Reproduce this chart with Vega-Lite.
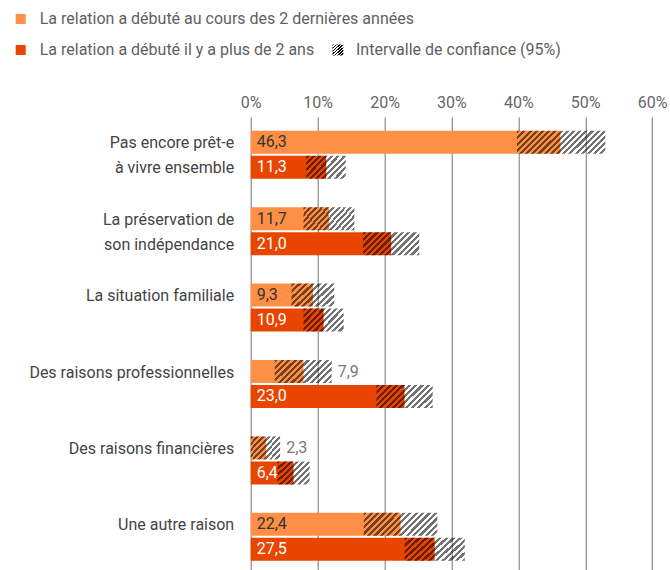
{
  "$schema": "https://vega.github.io/schema/vega-lite/v6.json",
  "width": 401.4,
  "height": 453,
  "autosize": {"type": "none"},
  "padding": {"left": 250.7, "top": 117, "right": 17.9, "bottom": 0},
  "background": "white",
  "config": {"font": "Roboto", "view": {"stroke": null}},
  "data": {"values": [
    {"raison": "Pas encore prêt-e à vivre ensemble", "groupe": "La relation a débuté au cours des 2 dernières années", "v": 46.3, "lo": 39.8, "hi": 53.0},
    {"raison": "Pas encore prêt-e à vivre ensemble", "groupe": "La relation a débuté il y a plus de 2 ans", "v": 11.3, "lo": 8.3, "hi": 14.2},
    {"raison": "La préservation de son indépendance", "groupe": "La relation a débuté au cours des 2 dernières années", "v": 11.7, "lo": 7.9, "hi": 15.5},
    {"raison": "La préservation de son indépendance", "groupe": "La relation a débuté il y a plus de 2 ans", "v": 21.0, "lo": 16.8, "hi": 25.2},
    {"raison": "La situation familiale", "groupe": "La relation a débuté au cours des 2 dernières années", "v": 9.3, "lo": 6.1, "hi": 12.5},
    {"raison": "La situation familiale", "groupe": "La relation a débuté il y a plus de 2 ans", "v": 10.9, "lo": 7.9, "hi": 13.9},
    {"raison": "Des raisons professionnelles", "groupe": "La relation a débuté au cours des 2 dernières années", "v": 7.9, "lo": 3.6, "hi": 12.1},
    {"raison": "Des raisons professionnelles", "groupe": "La relation a débuté il y a plus de 2 ans", "v": 23.0, "lo": 18.8, "hi": 27.2},
    {"raison": "Des raisons financières", "groupe": "La relation a débuté au cours des 2 dernières années", "v": 2.3, "lo": 0, "hi": 4.4},
    {"raison": "Des raisons financières", "groupe": "La relation a débuté il y a plus de 2 ans", "v": 6.4, "lo": 4.0, "hi": 8.8},
    {"raison": "Une autre raison", "groupe": "La relation a débuté au cours des 2 dernières années", "v": 22.4, "lo": 16.9, "hi": 27.9},
    {"raison": "Une autre raison", "groupe": "La relation a débuté il y a plus de 2 ans", "v": 27.5, "lo": 23.0, "hi": 32.0}
  ]},
  "encoding": {
    "y": {"field": "raison", "type": "nominal", "sort": null, "title": null,
      "scale": {"paddingInner": 0.372, "paddingOuter": 0.15, "align": 0.6},
      "axis": {"ticks": false, "domain": false, "grid": false, "labelPadding": 17, "labelFontSize": 16, "labelColor": "#444", "labelLimit": 300, "labelBaseline": "top", "labelOffset": -19.4, "labelLineHeight": 25, "labelAlign": "right",
        "labelExpr": "datum.label == 'Pas encore prêt-e à vivre ensemble' ? ['Pas encore prêt-e', 'à vivre ensemble'] : datum.label == 'La préservation de son indépendance' ? ['La préservation de', 'son indépendance'] : datum.label"}},
    "yOffset": {"field": "groupe", "type": "nominal", "sort": null, "scale": {"paddingInner": 0.08, "paddingOuter": 0}}
  },
  "layer": [
    {
      "mark": {"type": "bar"},
      "encoding": {
        "x": {"field": "v", "type": "quantitative", "title": null,
          "scale": {"domain": [0, 60], "nice": false, "zero": true},
          "axis": {"orient": "top", "values": [0, 10, 20, 30, 40, 50, 60], "labelExpr": "datum.value + '%'", "grid": true, "gridColor": "#757575", "gridWidth": 1, "ticks": false, "domain": false, "labelPadding": 7, "labelFontSize": 16, "labelColor": "#666", "labelFlush": false, "title": null}},
        "color": {"field": "groupe", "type": "nominal", "sort": null,
          "scale": {"domain": ["La relation a débuté au cours des 2 dernières années", "La relation a débuté il y a plus de 2 ans"], "range": ["#FF8F45", "#E84500"]},
          "legend": {"orient": "none", "legendX": -238, "legendY": -106, "title": null, "direction": "vertical", "symbolType": "square", "symbolSize": 100, "symbolStrokeWidth": 0, "labelFontSize": 16, "labelColor": "#5f5f5f", "labelLimit": 600, "labelOffset": 11, "rowPadding": 15, "padding": 0}}
      }
    },
    {
      "transform": [{"filter": "datum.hi - datum.lo < 5.2"}],
      "mark": {"type": "bar", "fillOpacity": 0.55, "fill": {"gradient": "linear", "x1": 0, "y1": 0, "x2": 1.1235, "y2": 0.8336, "stops": [
        {"offset":0,"color":"#000"},{"offset":0.0556,"color":"#000"},{"offset":0.0556,"color":"#0000"},{"offset":0.1111,"color":"#0000"},{"offset":0.1111,"color":"#000"},{"offset":0.1667,"color":"#000"},{"offset":0.1667,"color":"#0000"},{"offset":0.2222,"color":"#0000"},{"offset":0.2222,"color":"#000"},{"offset":0.2778,"color":"#000"},{"offset":0.2778,"color":"#0000"},{"offset":0.3333,"color":"#0000"},{"offset":0.3333,"color":"#000"},{"offset":0.3889,"color":"#000"},{"offset":0.3889,"color":"#0000"},{"offset":0.4444,"color":"#0000"},{"offset":0.4444,"color":"#000"},{"offset":0.5,"color":"#000"},{"offset":0.5,"color":"#0000"},{"offset":0.5556,"color":"#0000"},{"offset":0.5556,"color":"#000"},{"offset":0.6111,"color":"#000"},{"offset":0.6111,"color":"#0000"},{"offset":0.6667,"color":"#0000"},{"offset":0.6667,"color":"#000"},{"offset":0.7222,"color":"#000"},{"offset":0.7222,"color":"#0000"},{"offset":0.7778,"color":"#0000"},{"offset":0.7778,"color":"#000"},{"offset":0.8333,"color":"#000"},{"offset":0.8333,"color":"#0000"},{"offset":0.8889,"color":"#0000"},{"offset":0.8889,"color":"#000"},{"offset":0.9444,"color":"#000"},{"offset":0.9444,"color":"#0000"},{"offset":1,"color":"#0000"}]}},
      "encoding": {"x": {"field": "lo", "type": "quantitative"}, "x2": {"field": "hi"}}
    },
    {
      "transform": [{"filter": "datum.hi - datum.lo >= 5.2 && datum.hi - datum.lo < 7"}],
      "mark": {"type": "bar", "fillOpacity": 0.55, "fill": {"gradient": "linear", "x1": 0, "y1": 0, "x2": 1.1873, "y2": 0.6661, "stops": [
        {"offset":0,"color":"#000"},{"offset":0.05,"color":"#000"},{"offset":0.05,"color":"#0000"},{"offset":0.1,"color":"#0000"},{"offset":0.1,"color":"#000"},{"offset":0.15,"color":"#000"},{"offset":0.15,"color":"#0000"},{"offset":0.2,"color":"#0000"},{"offset":0.2,"color":"#000"},{"offset":0.25,"color":"#000"},{"offset":0.25,"color":"#0000"},{"offset":0.3,"color":"#0000"},{"offset":0.3,"color":"#000"},{"offset":0.35,"color":"#000"},{"offset":0.35,"color":"#0000"},{"offset":0.4,"color":"#0000"},{"offset":0.4,"color":"#000"},{"offset":0.45,"color":"#000"},{"offset":0.45,"color":"#0000"},{"offset":0.5,"color":"#0000"},{"offset":0.5,"color":"#000"},{"offset":0.55,"color":"#000"},{"offset":0.55,"color":"#0000"},{"offset":0.6,"color":"#0000"},{"offset":0.6,"color":"#000"},{"offset":0.65,"color":"#000"},{"offset":0.65,"color":"#0000"},{"offset":0.7,"color":"#0000"},{"offset":0.7,"color":"#000"},{"offset":0.75,"color":"#000"},{"offset":0.75,"color":"#0000"},{"offset":0.8,"color":"#0000"},{"offset":0.8,"color":"#000"},{"offset":0.85,"color":"#000"},{"offset":0.85,"color":"#0000"},{"offset":0.9,"color":"#0000"},{"offset":0.9,"color":"#000"},{"offset":0.95,"color":"#000"},{"offset":0.95,"color":"#0000"},{"offset":1,"color":"#0000"}]}},
      "encoding": {"x": {"field": "lo", "type": "quantitative"}, "x2": {"field": "hi"}}
    },
    {
      "transform": [{"filter": "datum.hi - datum.lo >= 7 && datum.hi - datum.lo < 10"}],
      "mark": {"type": "bar", "fillOpacity": 0.55, "fill": {"gradient": "linear", "x1": 0, "y1": 0, "x2": 1.2071, "y2": 0.4958, "stops": [
        {"offset":0,"color":"#000"},{"offset":0.04,"color":"#000"},{"offset":0.04,"color":"#0000"},{"offset":0.08,"color":"#0000"},{"offset":0.08,"color":"#000"},{"offset":0.12,"color":"#000"},{"offset":0.12,"color":"#0000"},{"offset":0.16,"color":"#0000"},{"offset":0.16,"color":"#000"},{"offset":0.2,"color":"#000"},{"offset":0.2,"color":"#0000"},{"offset":0.24,"color":"#0000"},{"offset":0.24,"color":"#000"},{"offset":0.28,"color":"#000"},{"offset":0.28,"color":"#0000"},{"offset":0.32,"color":"#0000"},{"offset":0.32,"color":"#000"},{"offset":0.36,"color":"#000"},{"offset":0.36,"color":"#0000"},{"offset":0.4,"color":"#0000"},{"offset":0.4,"color":"#000"},{"offset":0.44,"color":"#000"},{"offset":0.44,"color":"#0000"},{"offset":0.48,"color":"#0000"},{"offset":0.48,"color":"#000"},{"offset":0.52,"color":"#000"},{"offset":0.52,"color":"#0000"},{"offset":0.56,"color":"#0000"},{"offset":0.56,"color":"#000"},{"offset":0.6,"color":"#000"},{"offset":0.6,"color":"#0000"},{"offset":0.64,"color":"#0000"},{"offset":0.64,"color":"#000"},{"offset":0.68,"color":"#000"},{"offset":0.68,"color":"#0000"},{"offset":0.72,"color":"#0000"},{"offset":0.72,"color":"#000"},{"offset":0.76,"color":"#000"},{"offset":0.76,"color":"#0000"},{"offset":0.8,"color":"#0000"},{"offset":0.8,"color":"#000"},{"offset":0.84,"color":"#000"},{"offset":0.84,"color":"#0000"},{"offset":0.88,"color":"#0000"},{"offset":0.88,"color":"#000"},{"offset":0.92,"color":"#000"},{"offset":0.92,"color":"#0000"},{"offset":0.96,"color":"#0000"},{"offset":0.96,"color":"#000"},{"offset":1,"color":"#000"}]}},
      "encoding": {"x": {"field": "lo", "type": "quantitative"}, "x2": {"field": "hi"}}
    },
    {
      "transform": [{"filter": "datum.hi - datum.lo >= 10 && datum.hi - datum.lo < 12"}],
      "mark": {"type": "bar", "fillOpacity": 0.55, "fill": {"gradient": "linear", "x1": 0, "y1": 0, "x2": 1.1953, "y2": 0.3715, "stops": [
        {"offset":0,"color":"#000"},{"offset":0.0333,"color":"#000"},{"offset":0.0333,"color":"#0000"},{"offset":0.0667,"color":"#0000"},{"offset":0.0667,"color":"#000"},{"offset":0.1,"color":"#000"},{"offset":0.1,"color":"#0000"},{"offset":0.1333,"color":"#0000"},{"offset":0.1333,"color":"#000"},{"offset":0.1667,"color":"#000"},{"offset":0.1667,"color":"#0000"},{"offset":0.2,"color":"#0000"},{"offset":0.2,"color":"#000"},{"offset":0.2333,"color":"#000"},{"offset":0.2333,"color":"#0000"},{"offset":0.2667,"color":"#0000"},{"offset":0.2667,"color":"#000"},{"offset":0.3,"color":"#000"},{"offset":0.3,"color":"#0000"},{"offset":0.3333,"color":"#0000"},{"offset":0.3333,"color":"#000"},{"offset":0.3667,"color":"#000"},{"offset":0.3667,"color":"#0000"},{"offset":0.4,"color":"#0000"},{"offset":0.4,"color":"#000"},{"offset":0.4333,"color":"#000"},{"offset":0.4333,"color":"#0000"},{"offset":0.4667,"color":"#0000"},{"offset":0.4667,"color":"#000"},{"offset":0.5,"color":"#000"},{"offset":0.5,"color":"#0000"},{"offset":0.5333,"color":"#0000"},{"offset":0.5333,"color":"#000"},{"offset":0.5667,"color":"#000"},{"offset":0.5667,"color":"#0000"},{"offset":0.6,"color":"#0000"},{"offset":0.6,"color":"#000"},{"offset":0.6333,"color":"#000"},{"offset":0.6333,"color":"#0000"},{"offset":0.6667,"color":"#0000"},{"offset":0.6667,"color":"#000"},{"offset":0.7,"color":"#000"},{"offset":0.7,"color":"#0000"},{"offset":0.7333,"color":"#0000"},{"offset":0.7333,"color":"#000"},{"offset":0.7667,"color":"#000"},{"offset":0.7667,"color":"#0000"},{"offset":0.8,"color":"#0000"},{"offset":0.8,"color":"#000"},{"offset":0.8333,"color":"#000"},{"offset":0.8333,"color":"#0000"},{"offset":0.8667,"color":"#0000"},{"offset":0.8667,"color":"#000"},{"offset":0.9,"color":"#000"},{"offset":0.9,"color":"#0000"},{"offset":0.9333,"color":"#0000"},{"offset":0.9333,"color":"#000"},{"offset":0.9667,"color":"#000"},{"offset":0.9667,"color":"#0000"},{"offset":1,"color":"#0000"}]}},
      "encoding": {"x": {"field": "lo", "type": "quantitative"}, "x2": {"field": "hi"}}
    },
    {
      "transform": [{"filter": "datum.hi - datum.lo >= 12"}],
      "mark": {"type": "bar", "fillOpacity": 0.55, "fill": {"gradient": "linear", "x1": 0, "y1": 0, "x2": 1.1807, "y2": 0.3087, "stops": [
        {"offset":0,"color":"#000"},{"offset":0.0278,"color":"#000"},{"offset":0.0278,"color":"#0000"},{"offset":0.0556,"color":"#0000"},{"offset":0.0556,"color":"#000"},{"offset":0.0833,"color":"#000"},{"offset":0.0833,"color":"#0000"},{"offset":0.1111,"color":"#0000"},{"offset":0.1111,"color":"#000"},{"offset":0.1389,"color":"#000"},{"offset":0.1389,"color":"#0000"},{"offset":0.1667,"color":"#0000"},{"offset":0.1667,"color":"#000"},{"offset":0.1944,"color":"#000"},{"offset":0.1944,"color":"#0000"},{"offset":0.2222,"color":"#0000"},{"offset":0.2222,"color":"#000"},{"offset":0.25,"color":"#000"},{"offset":0.25,"color":"#0000"},{"offset":0.2778,"color":"#0000"},{"offset":0.2778,"color":"#000"},{"offset":0.3056,"color":"#000"},{"offset":0.3056,"color":"#0000"},{"offset":0.3333,"color":"#0000"},{"offset":0.3333,"color":"#000"},{"offset":0.3611,"color":"#000"},{"offset":0.3611,"color":"#0000"},{"offset":0.3889,"color":"#0000"},{"offset":0.3889,"color":"#000"},{"offset":0.4167,"color":"#000"},{"offset":0.4167,"color":"#0000"},{"offset":0.4444,"color":"#0000"},{"offset":0.4444,"color":"#000"},{"offset":0.4722,"color":"#000"},{"offset":0.4722,"color":"#0000"},{"offset":0.5,"color":"#0000"},{"offset":0.5,"color":"#000"},{"offset":0.5278,"color":"#000"},{"offset":0.5278,"color":"#0000"},{"offset":0.5556,"color":"#0000"},{"offset":0.5556,"color":"#000"},{"offset":0.5833,"color":"#000"},{"offset":0.5833,"color":"#0000"},{"offset":0.6111,"color":"#0000"},{"offset":0.6111,"color":"#000"},{"offset":0.6389,"color":"#000"},{"offset":0.6389,"color":"#0000"},{"offset":0.6667,"color":"#0000"},{"offset":0.6667,"color":"#000"},{"offset":0.6944,"color":"#000"},{"offset":0.6944,"color":"#0000"},{"offset":0.7222,"color":"#0000"},{"offset":0.7222,"color":"#000"},{"offset":0.75,"color":"#000"},{"offset":0.75,"color":"#0000"},{"offset":0.7778,"color":"#0000"},{"offset":0.7778,"color":"#000"},{"offset":0.8056,"color":"#000"},{"offset":0.8056,"color":"#0000"},{"offset":0.8333,"color":"#0000"},{"offset":0.8333,"color":"#000"},{"offset":0.8611,"color":"#000"},{"offset":0.8611,"color":"#0000"},{"offset":0.8889,"color":"#0000"},{"offset":0.8889,"color":"#000"},{"offset":0.9167,"color":"#000"},{"offset":0.9167,"color":"#0000"},{"offset":0.9444,"color":"#0000"},{"offset":0.9444,"color":"#000"},{"offset":0.9722,"color":"#000"},{"offset":0.9722,"color":"#0000"},{"offset":1,"color":"#0000"}]}},
      "encoding": {
        "x": {"field": "lo", "type": "quantitative"}, "x2": {"field": "hi"},
        "opacity": {"datum": "Intervalle de confiance (95%)", "type": "ordinal", "scale": {"range": [1]},
          "legend": {"orient": "none", "legendX": 79.3, "legendY": -75, "title": null, "symbolType": "square", "symbolSize": 121, "symbolStrokeWidth": 0, "symbolOpacity": 0.6, "labelFontSize": 16, "labelColor": "#5f5f5f", "labelOffset": 10, "labelLimit": 400, "padding": 0,
            "encode": {"symbols": {"update": {"opacity": {"value": 0.6}, "fill": {"value": {"gradient": "linear", "x1": 0, "y1": 0, "x2": 1, "y2": 1, "stops": [
              {"offset":0,"color":"#0000"},{"offset":0.2,"color":"#0000"},{"offset":0.2,"color":"#000"},{"offset":0.4,"color":"#000"},{"offset":0.4,"color":"#0000"},{"offset":0.6,"color":"#0000"},{"offset":0.6,"color":"#000"},{"offset":0.8,"color":"#000"},{"offset":0.8,"color":"#0000"},{"offset":1,"color":"#0000"}]}}}}}}}
      }
    },
    {
      "transform": [{"filter": "datum.lo >= 3.8 && datum.groupe == 'La relation a débuté au cours des 2 dernières années'"}],
      "mark": {"type": "text", "align": "left", "baseline": "middle", "dx": 6, "fontSize": 16, "color": "#333", "text": {"expr": "replace(format(datum.v, '.1f'), '.', ',')"}},
      "encoding": {"x": {"datum": 0, "type": "quantitative"}}
    },
    {
      "transform": [{"filter": "datum.lo >= 3.8 && datum.groupe == 'La relation a débuté il y a plus de 2 ans'"}],
      "mark": {"type": "text", "align": "left", "baseline": "middle", "dx": 6, "fontSize": 16, "color": "#ffffff", "text": {"expr": "replace(format(datum.v, '.1f'), '.', ',')"}},
      "encoding": {"x": {"datum": 0, "type": "quantitative"}}
    },
    {
      "transform": [{"filter": "datum.lo < 3.8"}],
      "mark": {"type": "text", "align": "left", "baseline": "middle", "dx": 6, "fontSize": 16, "color": "#777", "text": {"expr": "replace(format(datum.v, '.1f'), '.', ',')"}},
      "encoding": {"x": {"field": "hi", "type": "quantitative"}}
    }
  ]
}
